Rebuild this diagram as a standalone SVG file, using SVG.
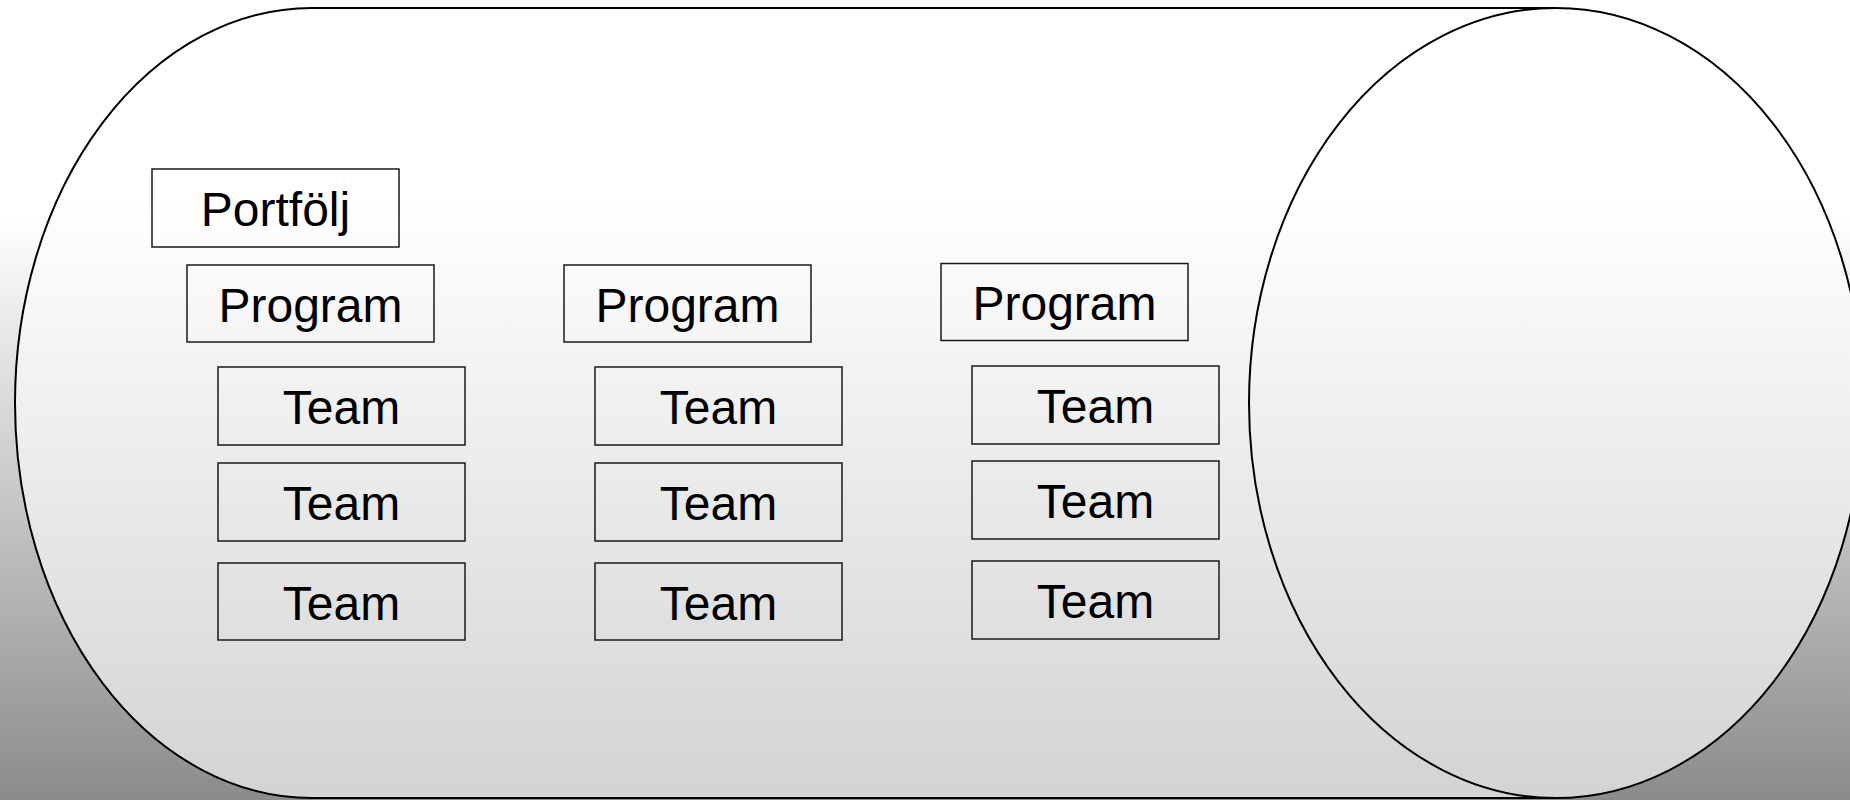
<svg xmlns="http://www.w3.org/2000/svg" width="1850" height="800" viewBox="0 0 1850 800">
  <defs>
    <linearGradient id="bg" gradientUnits="userSpaceOnUse" x1="0" y1="0" x2="0" y2="800">
      <stop offset="0" stop-color="#ffffff"/>
      <stop offset="0.27" stop-color="#ffffff"/>
      <stop offset="1" stop-color="#8b8b8b"/>
    </linearGradient>
    <linearGradient id="body" gradientUnits="userSpaceOnUse" x1="0" y1="0" x2="0" y2="800">
      <stop offset="0" stop-color="#ffffff"/>
      <stop offset="0.25" stop-color="#ffffff"/>
      <stop offset="1" stop-color="#d3d3d3"/>
    </linearGradient>
    <style>
      .cyl { fill: url(#body); stroke: #000; stroke-width: 2; }
      .box { fill: none; stroke: #1a1a1a; stroke-width: 1.5; }
      .lbl { font-family: "Liberation Sans", Arial, sans-serif; font-size: 48px; fill: #000; text-anchor: middle; }
    </style>
  </defs>
  <rect x="0" y="0" width="1850" height="800" fill="url(#bg)"/>
  <g id="cylinder">
    <path class="cyl" d="M 1556 8 L 312 8 A 297 395 0 0 0 312 798 L 1556 798 Z"/>
    <ellipse class="cyl" cx="1556" cy="403" rx="307" ry="395"/>
  </g>
  <g id="connectors"/>
  <g id="portfolj">
    <rect class="box" x="152" y="169" width="247" height="78"/>
    <text class="lbl" x="275.5" y="225.5">Portfölj</text>
  </g>
  <g id="program1">
    <rect class="box" x="187" y="265" width="247" height="77"/>
    <text class="lbl" x="310.5" y="321.5">Program</text>
  </g>
  <g id="team1a">
    <rect class="box" x="218" y="367" width="247" height="78"/>
    <text class="lbl" x="341.5" y="423.5">Team</text>
  </g>
  <g id="team1b">
    <rect class="box" x="218" y="463" width="247" height="78"/>
    <text class="lbl" x="341.5" y="519.5">Team</text>
  </g>
  <g id="team1c">
    <rect class="box" x="218" y="563" width="247" height="77"/>
    <text class="lbl" x="341.5" y="619.5">Team</text>
  </g>
  <g id="program2">
    <rect class="box" x="564" y="265" width="247" height="77"/>
    <text class="lbl" x="687.5" y="321.5">Program</text>
  </g>
  <g id="team2a">
    <rect class="box" x="595" y="367" width="247" height="78"/>
    <text class="lbl" x="718.5" y="423.5">Team</text>
  </g>
  <g id="team2b">
    <rect class="box" x="595" y="463" width="247" height="78"/>
    <text class="lbl" x="718.5" y="519.5">Team</text>
  </g>
  <g id="team2c">
    <rect class="box" x="595" y="563" width="247" height="77"/>
    <text class="lbl" x="718.5" y="619.5">Team</text>
  </g>
  <g id="program3">
    <rect class="box" x="941" y="263.5" width="247" height="77"/>
    <text class="lbl" x="1064.5" y="320">Program</text>
  </g>
  <g id="team3a">
    <rect class="box" x="972" y="366" width="247" height="78"/>
    <text class="lbl" x="1095.5" y="422.5">Team</text>
  </g>
  <g id="team3b">
    <rect class="box" x="972" y="461" width="247" height="78"/>
    <text class="lbl" x="1095.5" y="517.5">Team</text>
  </g>
  <g id="team3c">
    <rect class="box" x="972" y="561" width="247" height="78"/>
    <text class="lbl" x="1095.5" y="617.5">Team</text>
  </g>
</svg>
